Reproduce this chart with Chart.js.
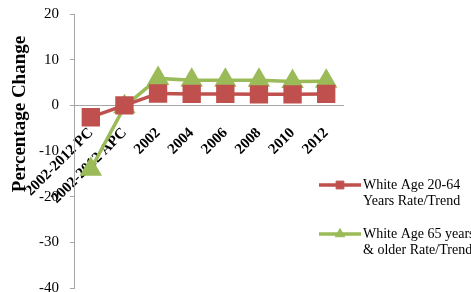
<!DOCTYPE html>
<html><head><meta charset="utf-8">
<script src="https://cdn.jsdelivr.net/npm/chart.js@4"></script>
<style>html,body{margin:0;padding:0;background:#fff;overflow:hidden}</style></head>
<body><canvas id="c" width="471" height="292"></canvas>
<script>
const categories = ['2002-2012 PC', '2002-2012 APC', '2002', '2004', '2006', '2008', '2010', '2012'];
const white2064 = [-2.6, 0.0, 2.6, 2.5, 2.5, 2.4, 2.4, 2.5];
const white65 = [-14.0, -0.3, 5.9, 5.5, 5.5, 5.5, 5.2, 5.3];
const seriesLabels = [['White Age 20-64', 'Years Rate/Trend'], ['White Age 65 years', '& older Rate/Trend']];
const yMin = -40, yMax = 20, yStep = 10;
const yTitle = 'Percentage Change';

const FONT = "'Liberation Serif', 'Times New Roman', serif";
const RED = '#C0504D', GREEN = '#9BBB59', AXIS = '#A6A6A6';

const titlePlugin = {
  id: 'ytitle',
  afterDraw(chart) {
    const ctx = chart.ctx;
    ctx.save();
    ctx.translate(20, 114);
    ctx.rotate(-Math.PI / 2);
    ctx.font = 'bold 19px ' + FONT;
    ctx.fillStyle = '#000';
    ctx.textAlign = 'center';
    ctx.textBaseline = 'middle';
    ctx.fillText(yTitle, 0, 0);
    ctx.restore();
  }
};

const legendPlugin = {
  id: 'customLegend',
  afterDraw(chart) {
    const ctx = chart.ctx;
    const rows = [185, 234];
    chart.data.datasets.forEach((ds, i) => {
      const y = rows[i];
      ctx.save();
      ctx.strokeStyle = ds.borderColor;
      ctx.lineWidth = 3.5;
      ctx.beginPath();
      ctx.moveTo(319, y);
      ctx.lineTo(361, y);
      ctx.stroke();
      ctx.fillStyle = ds.pointBackgroundColor;
      ctx.strokeStyle = ds.pointBorderColor;
      ctx.lineWidth = 1;
      Chart.helpers.drawPoint(ctx, {pointStyle: ds.pointStyle, radius: 5.5, borderWidth: 1}, 340, y);
      ctx.fillStyle = '#000';
      ctx.font = '14px ' + FONT;
      ctx.textAlign = 'left';
      ctx.textBaseline = 'middle';
      seriesLabels[i].forEach((t, k) => ctx.fillText(t, 363, y + k * 16));
      ctx.restore();
    });
  }
};

new Chart(document.getElementById('c'), {
  type: 'line',
  data: {
    labels: categories,
    datasets: [
      {label: seriesLabels[0].join(' '), data: white2064, borderColor: RED, backgroundColor: RED,
       pointBackgroundColor: RED, pointBorderColor: RED, pointStyle: 'rect', pointRadius: 10.5,
       borderWidth: 3.5, tension: 0},
      {label: seriesLabels[1].join(' '), data: white65, borderColor: GREEN, backgroundColor: GREEN,
       pointBackgroundColor: GREEN, pointBorderColor: GREEN, pointStyle: 'triangle', pointRadius: 9.5,
       borderWidth: 3.5, tension: 0}
    ]
  },
  options: {
    responsive: false,
    animation: false,
    events: [],
    layout: {autoPadding: false, padding: {left: 0, top: 14, right: 128, bottom: 4}},
    plugins: {legend: {display: false}, tooltip: {enabled: false}},
    scales: {
      x: {
        position: {y: 0},
        offset: true,
        grid: {display: false, drawTicks: false},
        border: {display: true, color: AXIS, width: 1},
        ticks: {
          autoSkip: false, minRotation: 45, maxRotation: 45, padding: 19,
          color: '#000', font: {family: FONT, size: 15, weight: 'bold'}
        }
      },
      y: {
        min: yMin, max: yMax,
        afterFit(s) { s.width = 74; s.paddingTop = 0; s.paddingBottom = 0; },
        grid: {drawOnChartArea: false, drawTicks: true, tickLength: 4, color: AXIS},
        border: {display: true, color: AXIS, width: 1},
        ticks: {stepSize: yStep, padding: 11, color: '#000', font: {family: FONT, size: 15}}
      }
    }
  },
  plugins: [titlePlugin, legendPlugin]
});
</script>
</body></html>
